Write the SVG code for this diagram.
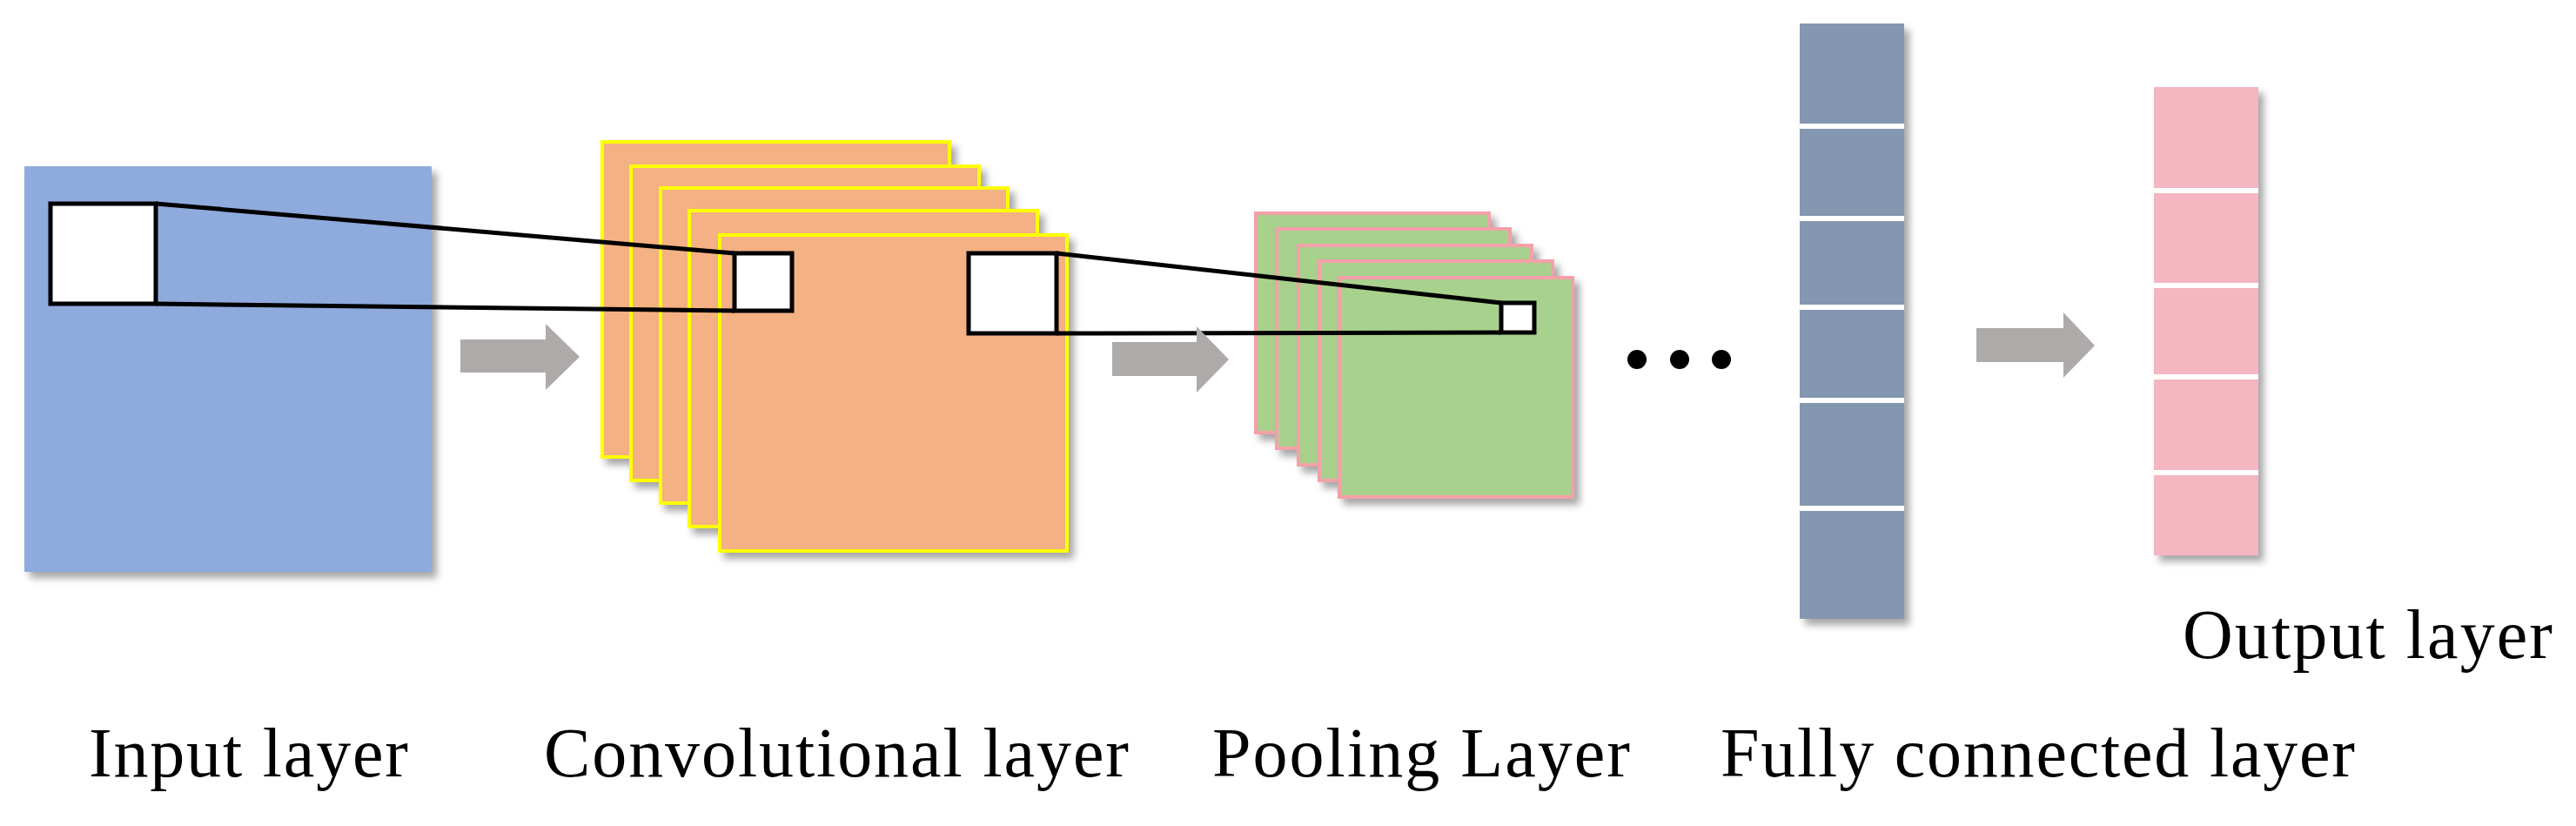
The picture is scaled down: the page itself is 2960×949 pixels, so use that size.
<svg xmlns="http://www.w3.org/2000/svg" width="2960" height="949" viewBox="0 0 2960 949">
<defs>
<filter id="sh" x="-10%" y="-10%" width="130%" height="130%"><feDropShadow dx="6" dy="7" stdDeviation="4" flood-color="#000" flood-opacity="0.35"/></filter>
</defs>
<style>
text{font-family:"Liberation Serif","Times New Roman",serif;font-size:80px;fill:#000}
.conv{fill:#F4B183;stroke:#FFFF00;stroke-width:4;filter:url(#sh)}
.pool{fill:#A9D18E;stroke:#F4A0A8;stroke-width:4;filter:url(#sh)}
.win{fill:#fff;stroke:#000;stroke-width:5}
.ln{stroke:#000;stroke-width:5;fill:none}
.sep{stroke:#fff;stroke-width:6}
.arr{fill:#AEAAAA}
</style>
<rect width="2960" height="949" fill="#fff"/>
<g id="input"><rect x="28" y="191" width="468" height="466" fill="#8FAADC" filter="url(#sh)"/></g>
<g id="conv">
<rect class="conv" x="692" y="163" width="399" height="362"/>
<rect class="conv" x="725" y="191" width="400" height="361"/>
<rect class="conv" x="759" y="216" width="399" height="362"/>
<rect class="conv" x="792" y="242" width="400" height="363"/>
<rect class="conv" x="827" y="270" width="399" height="363"/>
</g>
<g id="pool">
<rect class="pool" x="1443" y="245" width="268" height="252"/>
<rect class="pool" x="1467" y="263" width="268" height="252"/>
<rect class="pool" x="1492" y="282" width="268" height="252"/>
<rect class="pool" x="1516" y="300" width="268" height="252"/>
<rect class="pool" x="1539" y="319" width="268" height="252"/>
</g>
<g id="dots"><circle cx="1881" cy="413" r="11"/><circle cx="1930" cy="413" r="11"/><circle cx="1978" cy="413" r="11"/></g>
<g id="fc"><rect x="2068" y="27" width="120" height="684" fill="#8497B0" filter="url(#sh)"/>
<line class="sep" x1="2068" x2="2188" y1="145" y2="145"/><line class="sep" x1="2068" x2="2188" y1="251" y2="251"/><line class="sep" x1="2068" x2="2188" y1="353" y2="353"/><line class="sep" x1="2068" x2="2188" y1="460" y2="460"/><line class="sep" x1="2068" x2="2188" y1="584" y2="584"/></g>
<g id="output"><rect x="2475" y="100" width="120" height="538" fill="#F4B6C0" filter="url(#sh)"/>
<line class="sep" x1="2475" x2="2595" y1="219" y2="219"/><line class="sep" x1="2475" x2="2595" y1="328" y2="328"/><line class="sep" x1="2475" x2="2595" y1="433" y2="433"/><line class="sep" x1="2475" x2="2595" y1="543" y2="543"/></g>
<g id="windows">
<rect class="win" x="58" y="234" width="121" height="115"/>
<rect class="win" x="844" y="291" width="66" height="66"/>
<rect class="win" x="1113" y="291" width="101" height="92"/>
<rect class="win" x="1725" y="348" width="38" height="34"/>
</g>
<g id="connectors">
<line class="ln" x1="179" y1="234" x2="844" y2="291"/>
<line class="ln" x1="179" y1="349" x2="844" y2="357"/>
<line class="ln" x1="1214" y1="291" x2="1725" y2="348"/>
<line class="ln" x1="1214" y1="383" x2="1725" y2="382"/>
<polygon class="arr" points="529,390 627,390 627,372 666,410 627,448 627,428 529,428"/>
<polygon class="arr" points="1278,393 1375,393 1375,375 1412,413 1375,451 1375,432 1278,432"/>
<polygon class="arr" points="2271,377 2371,377 2371,359 2407,397 2371,434 2371,416 2271,416"/>
</g>
<text x="102" y="892" textLength="367">Input layer</text>
<text x="625" y="892" textLength="672">Convolutional layer</text>
<text x="1393" y="892" textLength="480">Pooling Layer</text>
<text x="1977" y="892" textLength="729">Fully connected layer</text>
<text x="2508" y="756" textLength="425">Output layer</text>
</svg>
